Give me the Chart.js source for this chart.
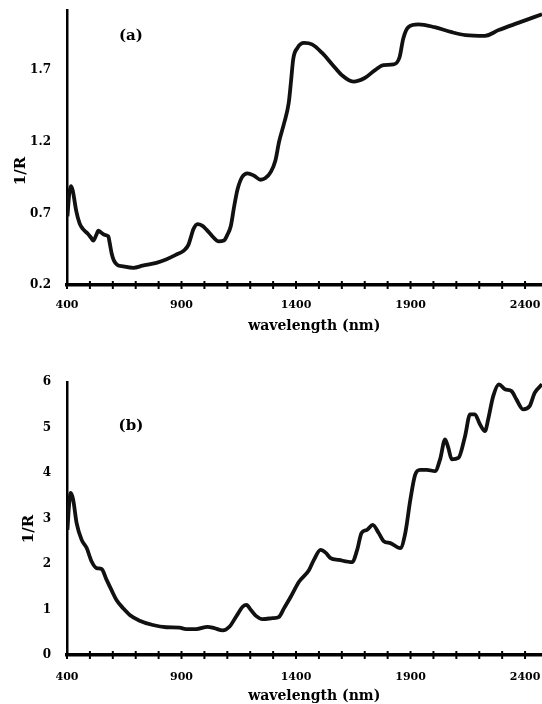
<!DOCTYPE html>
<html>
<head>
<meta charset="utf-8">
<script src="https://cdn.jsdelivr.net/npm/chart.js@4/dist/chart.umd.min.js"></script>
<style>
  body { margin: 0; background: #fff; overflow: hidden; }
  canvas { position: absolute; left: 0; }
  #chartA { top: 0; }
  #chartB { top: 370px; }
</style>
</head>
<body>
<canvas id="chartA" width="542" height="335"></canvas>
<canvas id="chartB" width="542" height="340"></canvas>
<script>
// spectrum (a)
const wavelengthA = [402, 410, 417, 425, 440, 455, 470, 490, 505, 515, 528, 537, 550, 565, 580, 588, 595, 605, 620, 645, 690, 730, 790, 835, 875, 910, 930, 942, 952, 970, 990, 1010, 1035, 1062, 1085, 1100, 1115, 1130, 1145, 1165, 1188, 1215, 1245, 1265, 1290, 1310, 1326, 1348, 1368, 1378, 1388, 1406, 1435, 1470, 1514, 1558, 1600, 1650, 1700, 1745, 1783, 1826, 1852, 1868, 1890, 1935, 2005, 2080, 2140, 2225, 2285, 2370, 2474];
const valuesA = [0.68, 0.84, 0.89, 0.86, 0.72, 0.63, 0.59, 0.56, 0.53, 0.51, 0.55, 0.58, 0.565, 0.55, 0.54, 0.48, 0.42, 0.37, 0.34, 0.33, 0.32, 0.335, 0.355, 0.38, 0.41, 0.44, 0.48, 0.54, 0.59, 0.625, 0.615, 0.585, 0.54, 0.505, 0.51, 0.55, 0.61, 0.75, 0.87, 0.955, 0.98, 0.965, 0.935, 0.945, 0.99, 1.07, 1.2, 1.33, 1.47, 1.62, 1.78, 1.855, 1.89, 1.88, 1.82, 1.74, 1.665, 1.62, 1.645, 1.7, 1.735, 1.74, 1.79, 1.92, 2.0, 2.02, 2.0, 1.965, 1.945, 1.94, 1.98, 2.03, 2.09];

// spectrum (b)
const wavelengthB = [402, 409, 416, 427, 442, 464, 486, 507, 529, 551, 573, 594, 616, 645, 674, 717, 775, 833, 891, 920, 964, 1014, 1043, 1080, 1109, 1138, 1167, 1184, 1203, 1225, 1254, 1297, 1326, 1348, 1377, 1413, 1457, 1478, 1507, 1529, 1551, 1587, 1645, 1667, 1686, 1710, 1735, 1761, 1783, 1812, 1855, 1877, 1899, 1920, 1942, 1971, 2007, 2029, 2051, 2065, 2080, 2109, 2138, 2160, 2181, 2203, 2225, 2239, 2261, 2286, 2312, 2341, 2362, 2391, 2420, 2442, 2474];
const valuesB = [2.75, 3.3, 3.56, 3.41, 2.9, 2.53, 2.35, 2.06, 1.91, 1.89, 1.65, 1.43, 1.21, 1.03, 0.88, 0.755, 0.66, 0.61, 0.6, 0.57, 0.57, 0.62, 0.59, 0.54, 0.62, 0.84, 1.06, 1.1, 0.99, 0.86, 0.79, 0.81, 0.84, 1.03, 1.28, 1.61, 1.87, 2.09, 2.31, 2.25, 2.13, 2.09, 2.04, 2.31, 2.68, 2.75, 2.86, 2.68, 2.5, 2.46, 2.35, 2.68, 3.41, 3.96, 4.07, 4.07, 4.04, 4.3, 4.74, 4.55, 4.3, 4.33, 4.81, 5.29, 5.29, 5.07, 4.92, 5.18, 5.69, 5.95, 5.84, 5.8, 5.62, 5.4, 5.47, 5.76, 5.95];

// axes
const xTicks = [400, 500, 600, 700, 800, 900, 1000, 1100, 1200, 1300, 1400, 1500, 1600, 1700, 1800, 1900, 2000, 2100, 2200, 2300, 2400];
const xLabels = [400, 900, 1400, 1900, 2400];
const yTicksA = [0.2, 0.7, 1.2, 1.7];
const yTicksB = [0, 1, 2, 3, 4, 5, 6];

// small crossing tick marks on the x axis + panel letter
const marks = {
  id: 'marks',
  afterDraw(chart, args, opts) {
    const { ctx, scales: { x, y } } = chart;
    ctx.save();
    ctx.strokeStyle = '#000';
    ctx.lineWidth = 2;
    x.ticks.forEach(t => {
      const px = x.getPixelForValue(t.value);
      ctx.beginPath();
      ctx.moveTo(px, y.bottom - 4);
      ctx.lineTo(px, y.bottom + 4);
      ctx.stroke();
    });
    ctx.fillStyle = '#000';
    ctx.font = 'bold 15px "DejaVu Serif"';
    ctx.textAlign = 'center';
    ctx.textBaseline = 'middle';
    ctx.fillText(opts.text, x.getPixelForValue(opts.at[0]), y.getPixelForValue(opts.at[1]));
    ctx.restore();
  }
};

function makeChart(id, xs, ys, s) {
  return new Chart(document.getElementById(id), {
    type: 'line',
    data: {
      datasets: [{
        data: xs.map((w, i) => ({ x: w, y: ys[i] })),
        borderColor: '#111',
        borderWidth: 3.8,
        pointRadius: 0,
        cubicInterpolationMode: 'monotone',
        fill: false
      }]
    },
    options: {
      responsive: false,
      animation: false,
      layout: { padding: { top: s.padTop, left: 0, right: 0, bottom: 0 } },
      plugins: {
        legend: { display: false },
        tooltip: { enabled: false },
        marks: { text: s.letter, at: s.letterAt }
      },
      scales: {
        x: {
          type: 'linear',
          min: 400,
          max: 2474,
          afterBuildTicks: sc => { sc.ticks = xTicks.map(v => ({ value: v })); },
          afterFit: sc => { sc.height = s.xHeight; sc.paddingLeft = 0; sc.paddingRight = 0; },
          grid: { display: false, drawTicks: false },
          border: { display: true, color: '#000', width: 3.5 },
          ticks: {
            autoSkip: false,
            maxRotation: 0,
            padding: s.xPad,
            color: '#000',
            font: { family: 'DejaVu Serif', weight: 'bold', size: 11 },
            callback: v => xLabels.includes(v) ? String(v) : ''
          },
          title: {
            display: true,
            text: '    wavelength (nm)',
            color: '#000',
            padding: { top: 0, bottom: s.xTitlePad },
            font: { family: 'DejaVu Serif', weight: 'bold', size: 14 }
          }
        },
        y: {
          min: s.yMin,
          max: s.yMax,
          afterBuildTicks: sc => { sc.ticks = s.yTicks.map(v => ({ value: v })); },
          afterFit: sc => { sc.width = 67; sc.paddingTop = 0; sc.paddingBottom = 0; },
          grid: { display: false, drawTicks: false },
          border: { display: true, color: '#000', width: 2.5 },
          ticks: {
            padding: 16,
            color: '#000',
            font: { family: 'DejaVu Serif', weight: 'bold', size: 12 },
            callback: v => String(v)
          },
          title: {
            display: true,
            text: s.yTitle,
            color: '#000',
            padding: { top: s.yTitlePad, bottom: 0 },
            font: { family: 'DejaVu Serif', weight: 'bold', size: 15 }
          }
        }
      }
    },
    plugins: [marks]
  });
}

makeChart('chartA', wavelengthA, valuesA, {
  padTop: 10, xHeight: 50, xPad: 14, xTitlePad: 0, yMin: 0.2, yMax: 2.12, yTicks: yTicksA,
  yTitle: '1/R         ', yTitlePad: 12,
  letter: '(a)', letterAt: [679, 1.94]
});

makeChart('chartB', wavelengthB, valuesB, {
  padTop: 12, xHeight: 55, xPad: 16, xTitlePad: 5, yMin: 0, yMax: 6, yTicks: yTicksB,
  yTitle: '1/R    ', yTitlePad: 20,
  letter: '(b)', letterAt: [679, 5.04]
});
</script>
</body>
</html>
